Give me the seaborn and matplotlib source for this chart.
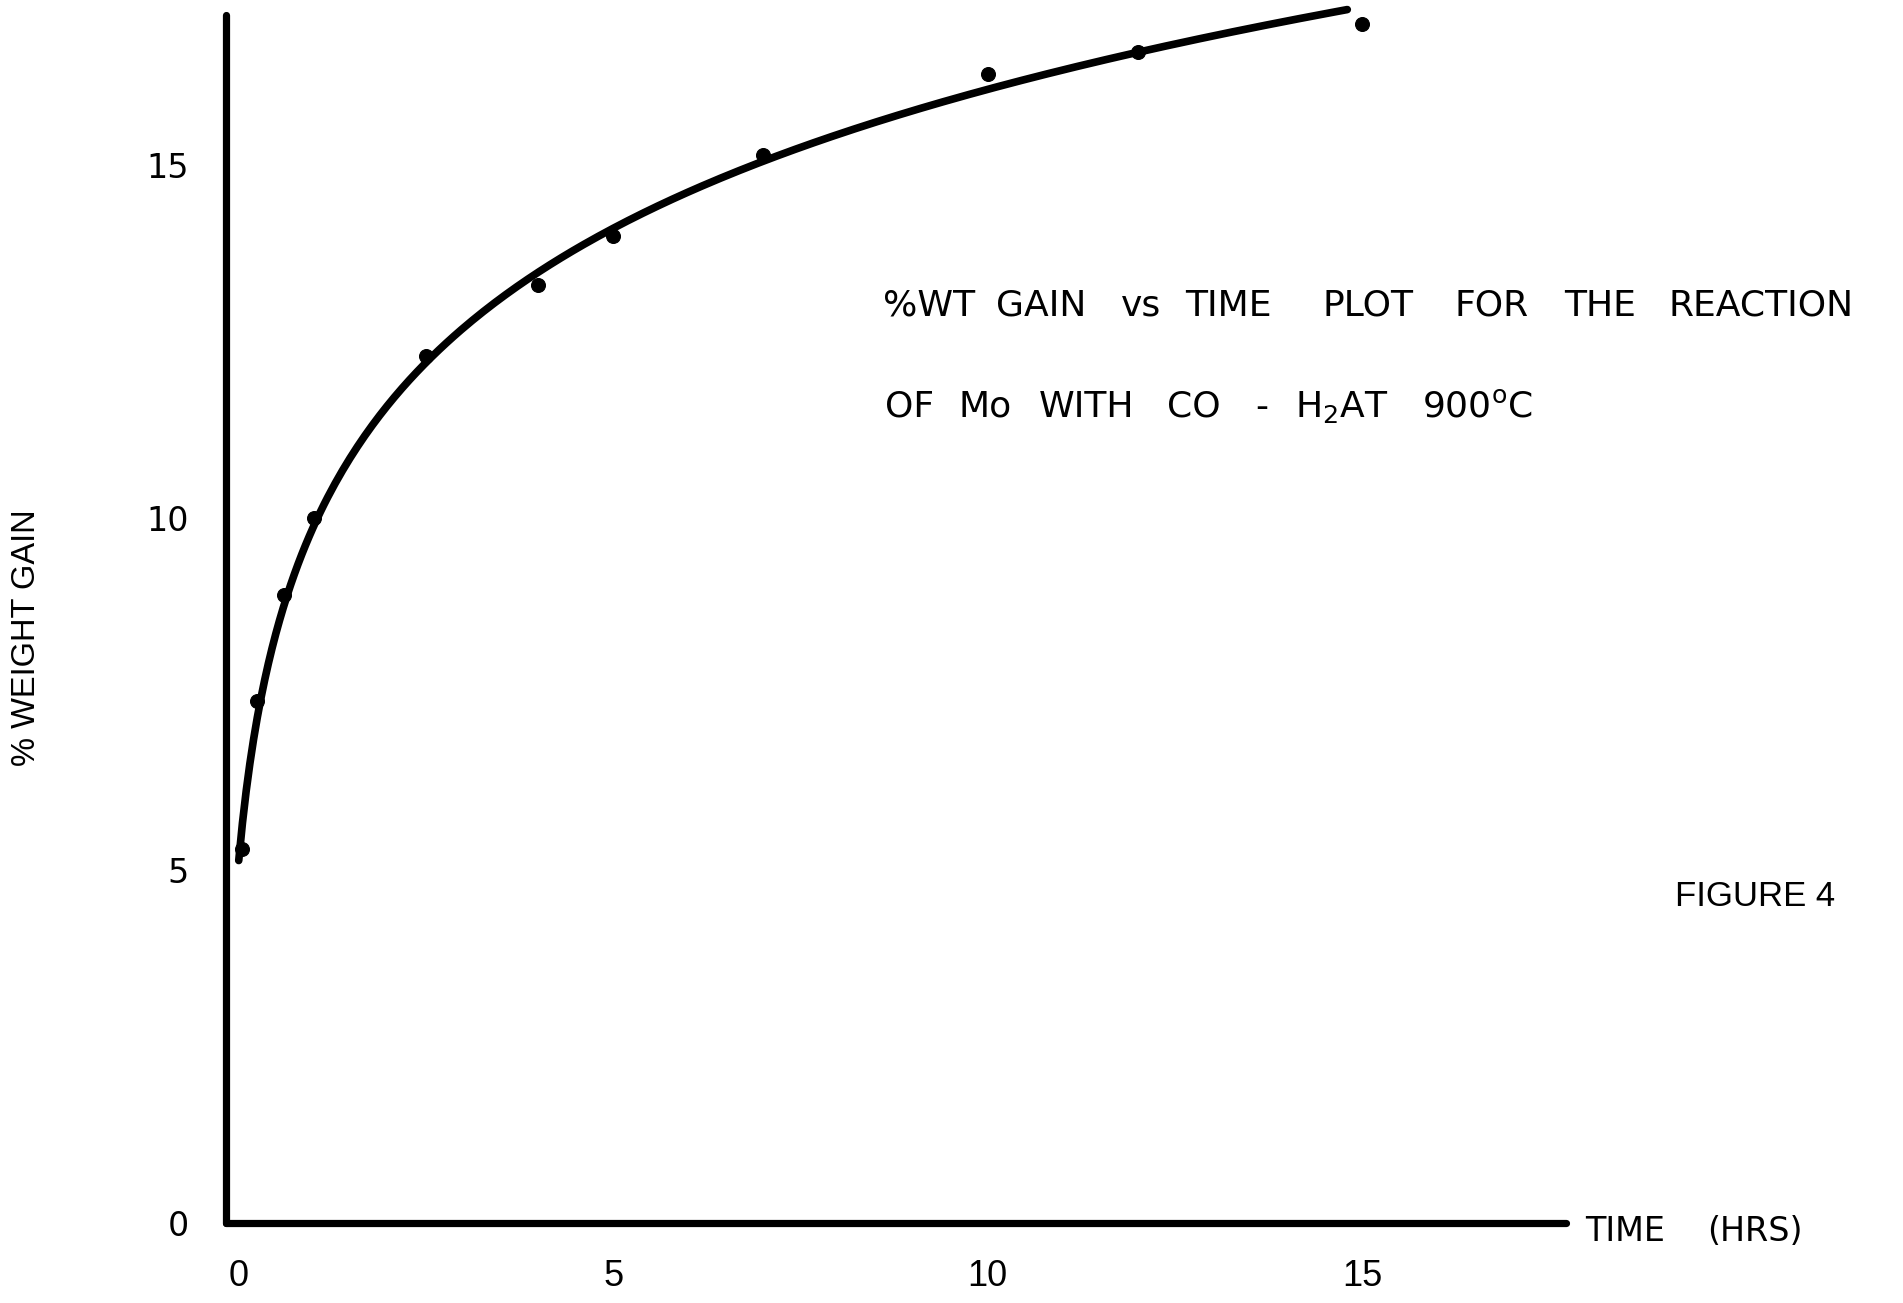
import numpy as np
import pandas as pd
import seaborn as sns
import matplotlib.pyplot as plt
from matplotlib import font_manager

time_hrs = [0.05, 0.25, 0.6, 1.0, 2.5, 4.0, 5.0, 7.0, 10.0, 12.0, 15.0]
wt_gain = [5.3, 7.4, 8.9, 10.0, 12.3, 13.3, 14.0, 15.15, 16.3, 16.6, 17.0]

x_ticks = [0, 5, 10, 15]
y_ticks = [0, 5, 10, 15]

# title words, typed with wide letter spacing in the original
title_1 = ["%WT", "GAIN", "vs", "TIME", "PLOT", "FOR", "THE", "REACTION"]
title_2 = ["OF", "Mo", "WITH", "CO", "-", r"H$_2$AT", r"900$^{\mathrm{o}}$C"]
# word left edges in pixels
title_1_x = [883, 996, 1121, 1185, 1323, 1455, 1564, 1668]
title_2_x = [885, 958, 1039, 1167, 1255, 1295, 1422]

sns.set_style("white")
plt.rcParams['font.family'] = ['DejaVu Sans']
plt.rcParams['text.color'] = 'black'
plt.rcParams['xtick.color'] = 'black'
plt.rcParams['ytick.color'] = 'black'
names = {f.name for f in font_manager.fontManager.ttflist}
narrow = 'Liberation Sans Narrow' if 'Liberation Sans Narrow' in names else 'Liberation Sans'

df = pd.DataFrame({"t": time_hrs, "w": wt_gain})

# smooth log trend through the points
coef = np.polyfit(np.log(df["t"] + 0.25), df["w"], 1)
t_fit = np.linspace(0.0, 14.8, 300)
curve = pd.DataFrame({"t": t_fit, "w": np.polyval(coef, np.log(t_fit + 0.25))})

W, H = 1903, 1303
fig = plt.figure(figsize=(W / 100, H / 100), dpi=100)
ax = fig.add_axes([226 / W, 80 / H, 1340 / W, 1208 / H])

sns.lineplot(data=curve, x="t", y="w", ax=ax, color="black", linewidth=5.5,
             solid_capstyle="round", clip_on=False)
sns.scatterplot(data=df, x="t", y="w", ax=ax, color="black", s=100,
                edgecolor="black", zorder=5, clip_on=False)

ax.set_xlim(-0.17, 17.72)
ax.set_ylim(0, 17.13)
ax.set_xticks(x_ticks)
ax.set_yticks(y_ticks)
ax.set_xlabel("")
ax.set_ylabel("")

for side in ["top", "right"]:
    ax.spines[side].set_visible(False)
for side in ["left", "bottom"]:
    ax.spines[side].set_linewidth(5.2)
    ax.spines[side].set_color("black")
    ax.spines[side].set_capstyle("round")

ax.tick_params(axis="x", direction="in", length=10, width=1.3, pad=26,
               labelsize=26)
ax.tick_params(axis="y", direction="in", length=8, width=1.3, pad=27,
               labelsize=24)
for lab in ax.get_xticklabels():
    lab.set_family(narrow)

fig.text(27 / W, 1 - 638 / H, "% WEIGHT GAIN", rotation=90,
         ha="center", va="center", fontsize=23.5, family="Liberation Sans")
fig.text(1585 / W, 1 - 1241 / H, "TIME", ha="left", va="baseline",
         fontsize=24)
fig.text(1707 / W, 1 - 1241 / H, "(HRS)", ha="left", va="baseline",
         fontsize=24)
for word, x in zip(title_1, title_1_x):
    fig.text(x / W, 1 - 316 / H, word, ha="left", va="baseline", fontsize=26)
for word, x in zip(title_2, title_2_x):
    fig.text(x / W, 1 - 417 / H, word, ha="left", va="baseline", fontsize=26)
fig.text(1675 / W, 1 - 906 / H, "FIGURE 4", ha="left", va="baseline",
         fontsize=25, family="Liberation Sans")

fig.savefig("out.png", dpi=100)
